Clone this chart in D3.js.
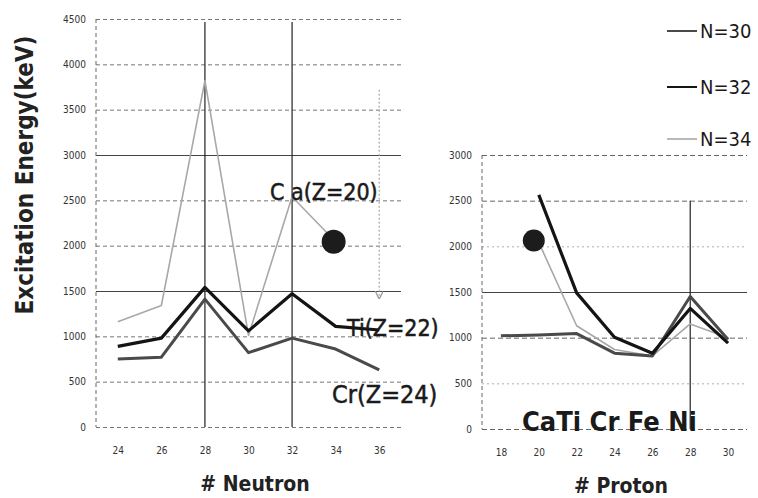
<!DOCTYPE html>
<html>
<head>
<meta charset="utf-8">
<script src="https://cdn.jsdelivr.net/npm/d3@7"></script>
<style>
  body { margin: 0; background: #fff; }
  text { font-family: "DejaVu Sans Condensed", "DejaVu Sans", sans-serif; }
</style>
</head>
<body>
<svg id="chart" width="758" height="498"></svg>
<script>
// left panel: 2+ energy vs neutron number, one line per element
const neutrons = [24, 26, 28, 30, 32, 34, 36];
const caValues = [1160, 1340, 3820, 1010, 2540, 2043, null];
const tiValues = [890, 980, 1540, 1060, 1470, 1110, 1070];
const crValues = [750, 770, 1410, 820, 980, 860, 630];
const neutronTicks = [24, 26, 28, 30, 32, 34, 36];
const leftEnergyTicks = [0, 500, 1000, 1500, 2000, 2500, 3000, 3500, 4000, 4500];
const neutronMarks = [28, 32];
const caArrow = [[36, 3720], [36, 1420]];

// right panel: 2+ energy vs proton number, one line per isotone
const protons = [18, 20, 22, 24, 26, 28, 30];
const n30Values = [1020, 1030, 1045, 830, 800, 1450, 980];
const n32Values = [null, 2563, 1490, 1005, 830, 1320, 940];
const n34Values = [null, 2043, 1130, 870, 800, 1150, 1000];
const protonTicks = [18, 20, 22, 24, 26, 28, 30];
const rightEnergyTicks = [0, 500, 1000, 1500, 2000, 2500, 3000];
const protonMarks = [28];
const legendLabels = ['N=30', 'N=32', 'N=34'];

// highlighted point (54Ca)
const highlight = {neutron: 34, proton: 20, energy: 2043};

const svg = d3.select('#chart');

// scales
const xN = d3.scaleLinear().domain([23, 37]).range([96, 401]);
const yL = d3.scaleLinear().domain([0, 4500]).range([427, 19]);
const xP = d3.scaleLinear().domain([17, 31]).range([482, 747]);
const yR = d3.scaleLinear().domain([0, 3000]).range([429, 155]);

function tickText (g) {
  g.selectAll('.tick text')
    .attr('font-size', 10)
    .attr('fill', '#333')
    .style('font-family', '"DejaVu Sans Condensed", sans-serif');
}

function gridAxis (g, x, y, ticks, styleFor) {
  const w = x.range()[1] - x.range()[0];
  g.attr('transform', `translate(${x.range()[0]},0)`)
    .call(d3.axisLeft(y).tickValues(ticks).tickFormat(d3.format('d')).tickSize(-w).tickPadding(10));
  g.select('.domain').remove();
  g.selectAll('.tick line').each(function (d) {
    const s = styleFor(d);
    d3.select(this)
      .attr('stroke', s.color)
      .attr('stroke-width', s.width)
      .attr('stroke-dasharray', s.dash);
  });
  g.call(tickText);
}

function bottomAxis (g, x, y0, ticks) {
  g.attr('transform', `translate(0,${y0})`)
    .call(d3.axisBottom(x).tickValues(ticks).tickSize(0).tickPadding(20));
  g.select('.domain').remove();
  g.call(tickText);
}

// left grid
svg.append('g').call(gridAxis, xN, yL, leftEnergyTicks, d => {
  if (d === 1500 || d === 3000) return {color: '#444', width: 1.1, dash: null};
  return {color: '#666', width: 0.9, dash: '4,3'};
});
svg.append('g').call(bottomAxis, xN, yL(0), neutronTicks);

// right grid
svg.append('g').call(gridAxis, xP, yR, rightEnergyTicks, d => {
  if (d === 1500) return {color: '#444', width: 1.1, dash: null};
  if (d === 500 || d === 2000) return {color: '#999', width: 0.8, dash: '2,3'};
  return {color: '#555', width: 0.9, dash: '5,3'};
});
svg.append('g').call(bottomAxis, xP, yR(0), protonTicks);

// left edges of the plot areas
svg.append('line')
  .attr('x1', xN.range()[0]).attr('x2', xN.range()[0])
  .attr('y1', yL(4500)).attr('y2', yL(0))
  .attr('stroke', '#666').attr('stroke-dasharray', '4,3');
svg.append('line')
  .attr('x1', xP.range()[0]).attr('x2', xP.range()[0])
  .attr('y1', yR(3000)).attr('y2', yR(0))
  .attr('stroke', '#666').attr('stroke-dasharray', '4,3');

// magic-number markers
svg.selectAll('.n-mark').data(neutronMarks).join('line')
  .attr('class', 'n-mark')
  .attr('x1', d => xN(d)).attr('x2', d => xN(d))
  .attr('y1', yL(4500) + 3).attr('y2', yL(0))
  .attr('stroke', '#222').attr('stroke-width', 1.2);
svg.selectAll('.p-mark').data(protonMarks).join('line')
  .attr('class', 'p-mark')
  .attr('x1', d => xP(d)).attr('x2', d => xP(d))
  .attr('y1', yR(2500)).attr('y2', yR(0))
  .attr('stroke', '#222').attr('stroke-width', 1.2);

// series
const styles = {
  light: {color: '#a8a8a8', width: 1.6},
  black: {color: '#141414', width: 3.2},
  gray: {color: '#4a4a4a', width: 3}
};

function drawSeries (xs, values, x, y, style) {
  const line = d3.line()
    .defined(d => d[1] != null)
    .x(d => x(d[0]))
    .y(d => y(d[1]));
  svg.append('path')
    .datum(d3.zip(xs, values))
    .attr('d', line)
    .attr('fill', 'none')
    .attr('stroke', style.color)
    .attr('stroke-width', style.width)
    .attr('stroke-linejoin', 'round');
}

drawSeries(neutrons, caValues, xN, yL, styles.light);
drawSeries(neutrons, crValues, xN, yL, styles.gray);
drawSeries(neutrons, tiValues, xN, yL, styles.black);

drawSeries(protons, n34Values, xP, yR, styles.light);
drawSeries(protons, n30Values, xP, yR, styles.gray);
drawSeries(protons, n32Values, xP, yR, styles.black);

// dotted arrow at N=36 for Ca
svg.append('defs').append('marker')
  .attr('id', 'head')
  .attr('viewBox', '0 0 10 10')
  .attr('refX', 9).attr('refY', 5)
  .attr('markerWidth', 7).attr('markerHeight', 7)
  .attr('orient', 'auto')
  .append('path')
  .attr('d', 'M0,0L10,5L0,10')
  .attr('fill', 'none').attr('stroke', '#999').attr('stroke-width', 1.5);

svg.append('line')
  .attr('x1', xN(caArrow[0][0])).attr('y1', yL(caArrow[0][1]))
  .attr('x2', xN(caArrow[1][0])).attr('y2', yL(caArrow[1][1]))
  .attr('stroke', '#aaa').attr('stroke-width', 1.2)
  .attr('stroke-dasharray', '2,2')
  .attr('marker-end', 'url(#head)');

// highlighted 54Ca point in both panels
svg.append('circle')
  .attr('cx', xN(highlight.neutron) - 2).attr('cy', yL(highlight.energy))
  .attr('r', 12).attr('fill', '#1c1c1c');
svg.append('circle')
  .attr('cx', xP(highlight.proton) - 5).attr('cy', yR(highlight.energy) - 2)
  .attr('r', 11).attr('fill', '#1c1c1c');

// series labels
const labelFont = '"DejaVu Sans Condensed", sans-serif';
function label (x, y, size, txt) {
  return svg.append('text').attr('x', x).attr('y', y)
    .attr('font-size', size).attr('fill', '#1a1a1a')
    .attr('stroke', '#1a1a1a').attr('stroke-width', 0.5)
    .style('font-family', labelFont).text(txt);
}
label(270, 200, 23, 'C a(Z=20)');
label(347, 336, 23, 'Ti(Z=22)');
label(332, 403, 25, 'Cr(Z=24)');
label(522, 431, 27, 'CaTi Cr Fe Ni').attr('font-weight', 'bold').attr('stroke', null);

// legend
const legendStyles = [styles.gray, styles.black, styles.light];
const legend = svg.selectAll('.legend').data(legendLabels).join('g')
  .attr('class', 'legend')
  .attr('transform', (d, i) => `translate(667,${[31, 87, 139][i]})`);
legend.append('line')
  .attr('x1', 0).attr('x2', 30)
  .attr('stroke', (d, i) => legendStyles[i].color)
  .attr('stroke-width', (d, i) => Math.min(legendStyles[i].width, 2));
legend.append('text')
  .attr('x', 33).attr('y', 7)
  .attr('font-size', 20).attr('fill', '#1a1a1a')
  .style('font-family', labelFont)
  .text(d => d);

// axis titles
svg.append('text')
  .attr('transform', 'translate(33,175) rotate(-90)')
  .attr('text-anchor', 'middle')
  .attr('font-size', 24).attr('font-weight', 'bold').attr('fill', '#222')
  .style('font-family', labelFont)
  .text('Excitation Energy(keV)');
svg.append('text')
  .attr('x', 255).attr('y', 491)
  .attr('text-anchor', 'middle')
  .attr('font-size', 21).attr('font-weight', 'bold').attr('fill', '#222')
  .style('font-family', labelFont)
  .text('# Neutron');
svg.append('text')
  .attr('x', 621).attr('y', 493)
  .attr('text-anchor', 'middle')
  .attr('font-size', 21).attr('font-weight', 'bold').attr('fill', '#222')
  .style('font-family', labelFont)
  .text('# Proton');
</script>
</body>
</html>
